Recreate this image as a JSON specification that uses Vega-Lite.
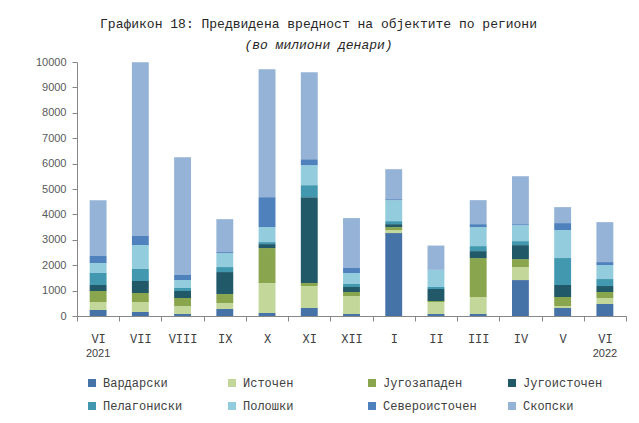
{
  "$schema": "https://vega.github.io/schema/vega-lite/v6.json",
  "width": 549,
  "height": 254,
  "autosize": {"type": "none"},
  "padding": {"left": 77, "top": 62, "right": 13, "bottom": 107},
  "background": "white",
  "title": {
    "text": "Графикон 18: Предвидена вредност на објектите по региони",
    "subtitle": "(во милиони денари)",
    "anchor": "middle",
    "frame": "group",
    "dx": -33,
    "offset": 4,
    "font": "Liberation Mono",
    "fontSize": 13,
    "fontWeight": "normal",
    "color": "#262626",
    "subtitleFont": "Liberation Mono",
    "subtitleFontSize": 13,
    "subtitleFontStyle": "italic",
    "subtitleColor": "#262626",
    "subtitlePadding": 8
  },
  "data": {
    "values": [
      {"m": "VI 2021", "Вардарски": 236, "Источен": 315, "Југозападен": 433, "Југоисточен": 236, "Пелагониски": 472, "Полошки": 393, "Североисточен": 275, "Скопски": 2202},
      {"m": "VII", "Вардарски": 157, "Источен": 393, "Југозападен": 354, "Југоисточен": 472, "Пелагониски": 472, "Полошки": 944, "Североисточен": 354, "Скопски": 6841},
      {"m": "VIII", "Вардарски": 79, "Источен": 315, "Југозападен": 315, "Југоисточен": 275, "Пелагониски": 118, "Полошки": 315, "Североисточен": 197, "Скопски": 4640},
      {"m": "IX", "Вардарски": 275, "Источен": 236, "Југозападен": 354, "Југоисточен": 865, "Пелагониски": 197, "Полошки": 550, "Североисточен": 39, "Скопски": 1297},
      {"m": "X", "Вардарски": 118, "Источен": 1180, "Југозападен": 1376, "Југоисточен": 157, "Пелагониски": 79, "Полошки": 590, "Североисточен": 1180, "Скопски": 5033},
      {"m": "XI", "Вардарски": 315, "Источен": 865, "Југозападен": 118, "Југоисточен": 3381, "Пелагониски": 472, "Полошки": 786, "Североисточен": 236, "Скопски": 3421},
      {"m": "XII", "Вардарски": 79, "Источен": 708, "Југозападен": 157, "Југоисточен": 197, "Пелагониски": 118, "Полошки": 433, "Североисточен": 197, "Скопски": 1966},
      {"m": "I", "Вардарски": 3263, "Источен": 118, "Југозападен": 118, "Југоисточен": 118, "Пелагониски": 118, "Полошки": 826, "Североисточен": 39, "Скопски": 1180},
      {"m": "II", "Вардарски": 79, "Источен": 472, "Југозападен": 39, "Југоисточен": 472, "Пелагониски": 79, "Полошки": 668, "Североисточен": 20, "Скопски": 944},
      {"m": "III", "Вардарски": 79, "Источен": 668, "Југозападен": 1533, "Југоисточен": 275, "Пелагониски": 197, "Полошки": 747, "Североисточен": 118, "Скопски": 944},
      {"m": "IV", "Вардарски": 1415, "Источен": 511, "Југозападен": 315, "Југоисточен": 550, "Пелагониски": 157, "Полошки": 629, "Североисточен": 39, "Скопски": 1887},
      {"m": "V", "Вардарски": 315, "Источен": 79, "Југозападен": 354, "Југоисточен": 472, "Пелагониски": 1062, "Полошки": 1101, "Североисточен": 275, "Скопски": 629},
      {"m": "VI 2022", "Вардарски": 472, "Источен": 236, "Југозападен": 236, "Југоисточен": 236, "Пелагониски": 275, "Полошки": 550, "Североисточен": 118, "Скопски": 1573}
    ]
  },
  "transform": [
    {"fold": ["Вардарски", "Источен", "Југозападен", "Југоисточен", "Пелагониски", "Полошки", "Североисточен", "Скопски"], "as": ["region", "value"]},
    {"calculate": "indexof(['Вардарски', 'Источен', 'Југозападен', 'Југоисточен', 'Пелагониски', 'Полошки', 'Североисточен', 'Скопски'], datum.region)", "as": "k"}
  ],
  "layer": [
    {
      "mark": {"type": "bar", "width": {"band": 0.4}},
      "encoding": {
        "x": {
          "field": "m", "type": "nominal", "sort": null,
          "scale": {"paddingInner": 0, "paddingOuter": 0},
          "axis": {
            "orient": "bottom",
            "title": null,
            "labelAngle": 0,
            "labelExpr": "isString(datum.value) ? split(datum.value, ' ')[0] : ''",
            "labelFont": "Liberation Mono",
            "labelFontSize": 12,
            "labelColor": "#404040",
            "labelPadding": 12,
            "tickBand": "extent",
            "ticks": true,
            "tickSize": 5,
            "tickColor": "#888888",
            "domainColor": "#888888",
            "grid": false
          }
        },
        "y": {
          "field": "value", "type": "quantitative", "stack": "zero",
          "scale": {"domain": [0, 10000], "nice": false},
          "axis": {
            "title": null,
            "values": [0, 1000, 2000, 3000, 4000, 5000, 6000, 7000, 8000, 9000, 10000],
            "format": "d",
            "labelFont": "Liberation Sans",
            "labelFontSize": 11,
            "labelColor": "#595959",
            "labelPadding": 6,
            "tickSize": 5,
            "tickColor": "#888888",
            "domainColor": "#888888",
            "grid": false
          }
        },
        "color": {
          "field": "region", "type": "nominal",
          "scale": {
            "domain": ["Вардарски", "Источен", "Југозападен", "Југоисточен", "Пелагониски", "Полошки", "Североисточен", "Скопски"],
            "range": ["#4572A7", "#C4D79B", "#89A54E", "#215968", "#4198AF", "#93CDDD", "#4F81BD", "#95B3D7"]
          },
          "legend": {
            "title": null,
            "orient": "none",
            "legendX": 9,
            "legendY": 315,
            "direction": "horizontal",
            "columns": 4,
            "gridAlign": "all",
            "symbolType": "square",
            "symbolSize": 64,
            "symbolStrokeWidth": 0,
            "labelFont": "Liberation Mono",
            "labelFontSize": 12,
            "labelColor": "#404040",
            "labelOffset": 5,
            "columnPadding": 29,
            "rowPadding": 11
          }
        },
        "order": {"field": "k", "type": "quantitative", "sort": "ascending"}
      }
    },
    {
      "mark": {"type": "text", "text": ""},
      "encoding": {
        "x": {
          "field": "m", "type": "nominal", "sort": null,
          "axis": {
            "orient": "bottom",
            "title": null,
            "labelAngle": 0,
            "labelExpr": "datum.value == 'VI 2021' ? '2021' : (datum.value == 'VI 2022' ? '2022' : '')",
            "labelFont": "Liberation Sans",
            "labelFontSize": 11,
            "labelColor": "#404040",
            "labelPadding": 31,
            "ticks": false,
            "domain": false,
            "grid": false
          }
        }
      }
    }
  ],
  "resolve": {"axis": {"x": "independent"}},
  "config": {"view": {"stroke": null}}
}
